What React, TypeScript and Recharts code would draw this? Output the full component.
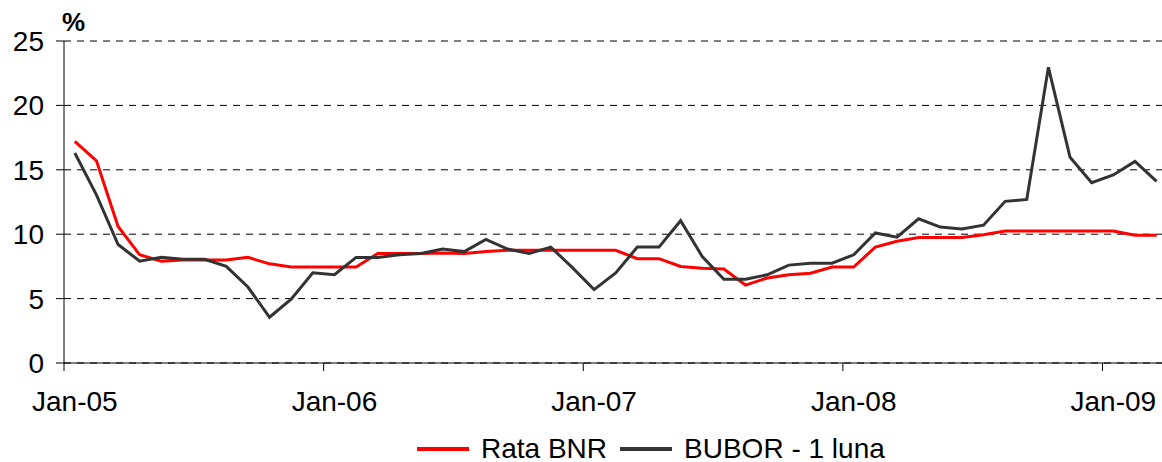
import React from "react"
import { LineChart, Line, XAxis, YAxis, CartesianGrid, Legend } from "recharts"

// monthly, Jan-05 .. Mar-09
const yearLabels = ["Jan-05", "Jan-06", "Jan-07", "Jan-08", "Jan-09"]
const monthNames = ["Jan", "Feb", "Mar", "Apr", "May", "Jun", "Jul", "Aug", "Sep", "Oct", "Nov", "Dec"]
const years = ["05", "06", "07", "08", "09"]
const months = years.flatMap((y) => monthNames.map((m) => `${m}-${y}`)).slice(0, 51)

const seriesNames = ["Rata BNR", "BUBOR - 1 luna"]

const rataBNR = [
  17.2, 15.7, 10.6, 8.4, 7.9, 8.0, 8.0, 8.0, 8.2, 7.7, 7.45, 7.45,
  7.45, 7.45, 8.5, 8.5, 8.5, 8.55, 8.5, 8.65, 8.75, 8.75, 8.75, 8.75,
  8.75, 8.75, 8.1, 8.1, 7.5, 7.35, 7.3, 6.05, 6.6, 6.85, 6.97, 7.45,
  7.45, 9.0, 9.45, 9.75, 9.75, 9.75, 9.95, 10.25, 10.25, 10.25, 10.25, 10.25,
  10.25, 9.92, 9.92,
]

const bubor1m = [
  16.3, 13.05, 9.2, 7.9, 8.2, 8.05, 8.05, 7.5, 5.9, 3.55, 4.95, 7.0,
  6.85, 8.2, 8.2, 8.4, 8.5, 8.85, 8.65, 9.6, 8.85, 8.5, 9.0, 7.4,
  5.7, 7.0, 9.0, 9.0, 11.05, 8.27, 6.5, 6.5, 6.85, 7.6, 7.75, 7.75,
  8.4, 10.1, 9.77, 11.2, 10.55, 10.4, 10.7, 12.55, 12.7, 22.96, 15.97, 14.0,
  14.6, 15.65, 14.1,
]

const yTicks = [0, 5, 10, 15, 20, 25]
const xTicks = [0, 12, 24, 36, 48]

// each month sits in the middle of its own slot
const data = months.map((m, i) => ({ month: m, pos: i + 0.5, bnr: rataBNR[i], bubor: bubor1m[i] }))

const W = 1162
const H = 462
const LEFT = 64
const X_MAX = 50.75
const HALF_SLOT = (W - LEFT) / X_MAX / 2
const FONT = "'Liberation Sans', Arial, sans-serif"

const YearTick = (props: any) => {
  const { x, y, payload } = props
  const idx = xTicks.indexOf(payload.value)
  return (
    <text x={x + HALF_SLOT} y={y} dy="0.71em" textAnchor="middle" fill="#000" fontSize={28} fontFamily={FONT}>
      {yearLabels[idx]}
    </text>
  )
}

const PercentLabel = (props: any) => {
  const vb = props.viewBox
  return (
    <text x={vb.x + vb.width - 2} y={vb.y - 10} fill="#000" fontSize={26} fontWeight="bold" fontFamily={FONT}>
      %
    </text>
  )
}

const LegendContent = (props: any) => {
  const items = [...(props.payload || [])].sort(
    (a: any, b: any) => seriesNames.indexOf(a.value) - seriesNames.indexOf(b.value)
  )
  return (
    <div style={{ display: "flex", alignItems: "center", height: 30, paddingLeft: 417, fontFamily: FONT, fontSize: 28, color: "#000" }}>
      {items.map((p: any) => (
        <div key={p.value} style={{ display: "flex", alignItems: "center", marginRight: 13 }}>
          <div style={{ width: 52, height: 4, background: p.color, marginRight: 12 }} />
          <span style={{ lineHeight: "30px", whiteSpace: "nowrap" }}>{p.value}</span>
        </div>
      ))}
    </div>
  )
}

export default function App() {
  return (
    <div style={{ position: "absolute", left: 0, top: 0, width: W, height: H, background: "#fff" }}>
      <style>{`body{margin:0}`}</style>
      <LineChart width={W} height={H} data={data} margin={{ top: 41, right: 0, left: 0, bottom: 9 }}>
        <CartesianGrid vertical={false} stroke="#000" strokeDasharray="7 6" />
        <XAxis
          dataKey="pos"
          type="number"
          domain={[0, X_MAX]}
          ticks={xTicks}
          interval={0}
          height={60}
          tickSize={8}
          tickMargin={20}
          axisLine={{ stroke: "#000" }}
          tickLine={{ stroke: "#000" }}
          tick={<YearTick />}
        />
        <YAxis
          domain={[0, 25]}
          ticks={yTicks}
          interval={0}
          width={LEFT}
          tickSize={8}
          tickMargin={12}
          axisLine={{ stroke: "#000" }}
          tickLine={{ stroke: "#000" }}
          tick={{ fill: "#000", fontSize: 28, fontFamily: FONT }}
          label={<PercentLabel />}
        />
        <Legend
          verticalAlign="bottom"
          content={<LegendContent />}
          wrapperStyle={{ left: 0, width: W, height: 30, top: 434 }}
        />
        <Line type="linear" dataKey="bnr" name={seriesNames[0]} stroke="#ff0000" strokeWidth={3} dot={false} isAnimationActive={false} />
        <Line type="linear" dataKey="bubor" name={seriesNames[1]} stroke="#333333" strokeWidth={3} dot={false} isAnimationActive={false} />
      </LineChart>
    </div>
  )
}
